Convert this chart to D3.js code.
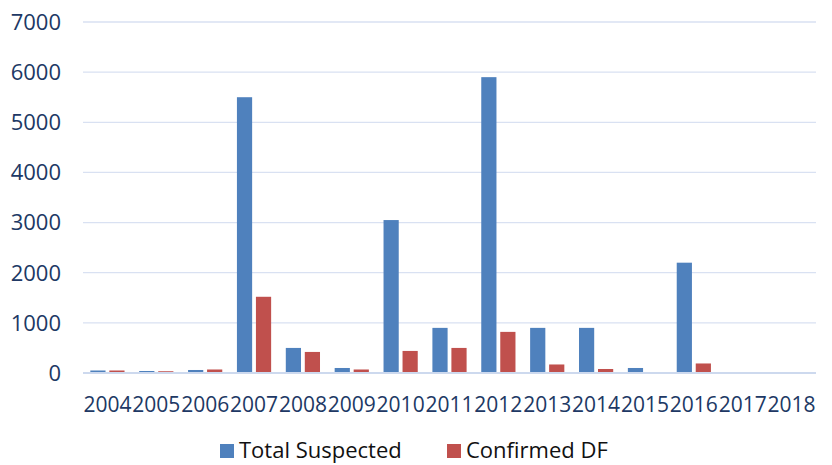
<!DOCTYPE html>
<html>
<head>
<meta charset="utf-8">
<script src="https://cdn.jsdelivr.net/npm/d3@7"></script>
<style>
  body { margin: 0; background: #fff; }
  text { font-family: "Open Sans", sans-serif; }
</style>
</head>
<body>
<div id="chart"></div>
<script>
// data
var years = ["2004", "2005", "2006", "2007", "2008", "2009", "2010", "2011", "2012", "2013", "2014", "2015", "2016", "2017", "2018"];
var totalSuspected = [50, 40, 60, 5500, 500, 100, 3050, 900, 5900, 900, 900, 100, 2200, 10, 0];
var confirmedDF = [50, 35, 70, 1520, 420, 70, 440, 500, 820, 170, 80, 10, 190, 5, 0];
var yTicks = [0, 1000, 2000, 3000, 4000, 5000, 6000, 7000];
var seriesNames = ["Total Suspected", "Confirmed DF"];

var width = 832,
    height = 465,
    margin = {top: 22, right: 16, bottom: 92, left: 83};

var color = d3.scaleOrdinal()
    .domain(seriesNames)
    .range(["#4f81bd", "#c0504d"]);

var svg = d3.select("#chart").append("svg")
    .attr("width", width)
    .attr("height", height);

var x = d3.scaleBand()
    .domain(years)
    .range([margin.left, width - margin.right])
    .paddingInner(0.3)
    .paddingOuter(0.15);

var xSub = d3.scaleBand()
    .domain(seriesNames)
    .range([0, x.bandwidth()])
    .paddingInner(0.2);

var y = d3.scaleLinear()
    .domain([0, 7000])
    .range([height - margin.bottom, margin.top]);

//Gridlines
svg.selectAll(".grid")
    .data(yTicks.slice(1))
    .enter().append("line")
    .attr("x1", margin.left)
    .attr("x2", width - margin.right)
    .attr("y1", function (d) { return y(d); })
    .attr("y2", function (d) { return y(d); })
    .attr("stroke", "#d9e1f2")
    .attr("stroke-width", 1.3);

//Y labels
svg.selectAll(".ylab")
    .data(yTicks)
    .enter().append("text")
    .attr("x", 61)
    .attr("y", function (d) { return y(d); })
    .attr("dy", "0.36em")
    .attr("text-anchor", "end")
    .attr("fill", "#203864")
    .style("font-size", "22px")
    .text(function (d) { return d; });

//Bars
var rows = years.map(function (yr, i) {
    return {year: yr, values: [
        {name: seriesNames[0], value: totalSuspected[i]},
        {name: seriesNames[1], value: confirmedDF[i]}
    ]};
});

var groups = svg.selectAll(".yr")
    .data(rows)
    .enter().append("g")
    .attr("transform", function (d) { return "translate(" + x(d.year) + ",0)"; });

groups.selectAll("rect")
    .data(function (d) { return d.values; })
    .enter().append("rect")
    .attr("x", function (d) { return xSub(d.name); })
    .attr("width", xSub.bandwidth())
    .attr("y", function (d) { return y(d.value); })
    .attr("height", function (d) { return y(0) - y(d.value); })
    .attr("fill", function (d) { return color(d.name); });

//Base axis line
svg.append("line")
    .attr("x1", margin.left)
    .attr("x2", width - margin.right)
    .attr("y1", y(0))
    .attr("y2", y(0))
    .attr("stroke", "#cdd9ee")
    .attr("stroke-width", 2);

//X labels
svg.selectAll(".xlab")
    .data(years)
    .enter().append("text")
    .attr("x", function (d) { return x(d) + x.bandwidth() / 2; })
    .attr("y", y(0) + 39)
    .attr("text-anchor", "middle")
    .attr("fill", "#203864")
    .style("font-size", "21px")
    .text(function (d) { return d; });

//Legend
var legendPos = [220, 447];
var legend = svg.selectAll(".legend")
    .data(seriesNames)
    .enter().append("g")
    .attr("transform", function (d, i) { return "translate(" + legendPos[i] + ",444)"; });

legend.append("rect")
    .attr("width", 14)
    .attr("height", 14)
    .attr("fill", function (d) { return color(d); });

legend.append("text")
    .attr("x", 19)
    .attr("y", 7)
    .attr("dy", "0.34em")
    .attr("fill", "#111")
    .style("font-size", "22px")
    .text(function (d) { return d; });
</script>
</body>
</html>
